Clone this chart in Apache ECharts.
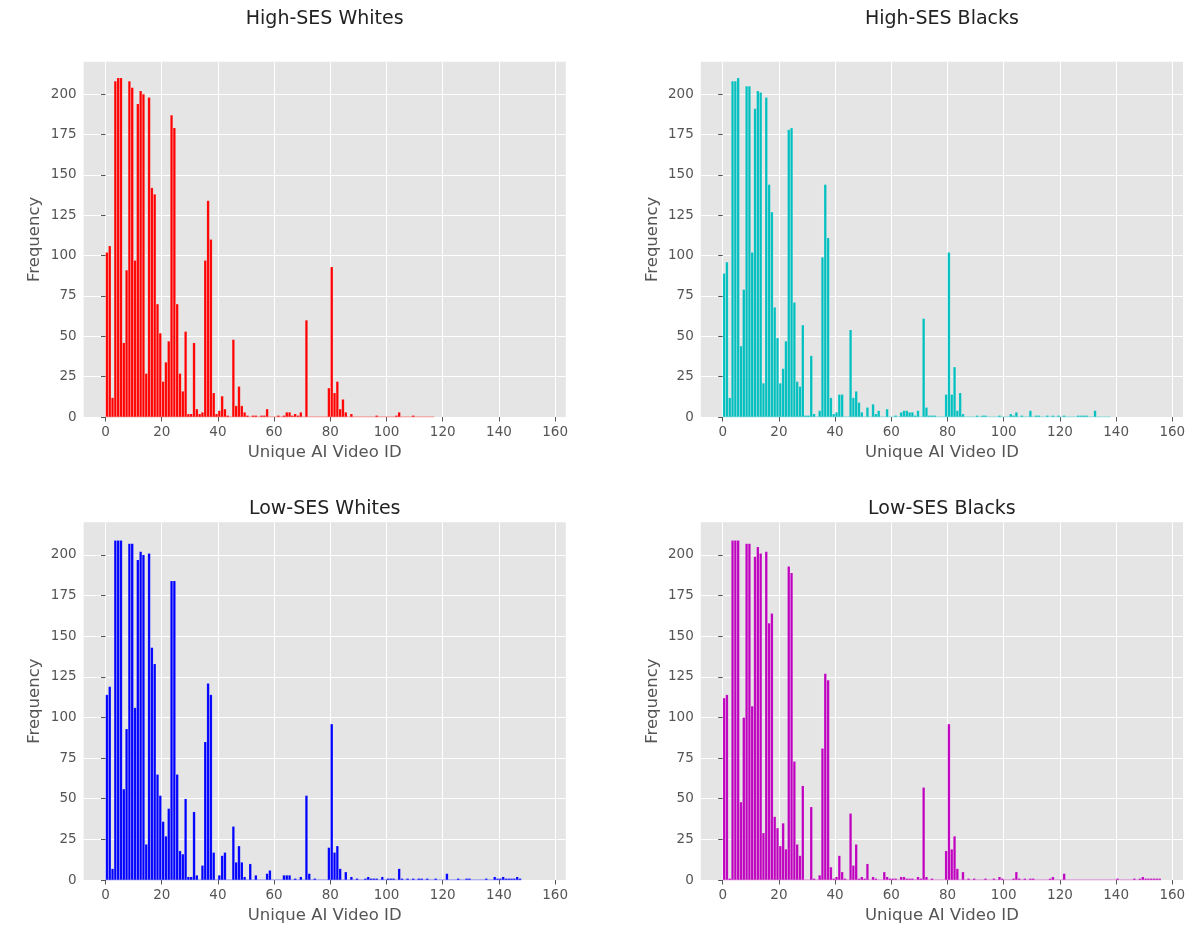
<!DOCTYPE html>
<html><head><meta charset="utf-8">
<script src="https://cdn.jsdelivr.net/npm/echarts@6/dist/echarts.min.js"></script>
<style>html,body{margin:0;padding:0;background:#fff}#c{width:1191px;height:928px}</style>
</head><body><div id="c"></div>
<script>
const xTicks = [0, 20, 40, 60, 80, 100, 120, 140, 160];
const yTicks = [0, 25, 50, 75, 100, 125, 150, 175, 200];
const titles = ['High-SES Whites', 'High-SES Blacks', 'Low-SES Whites', 'Low-SES Blacks'];
const colors = ['#ff0000', '#00bfbf', '#0000ff', '#bf00bf'];

const highSesWhites = [102,106,12,208,210,210,46,91,208,204,
97,194,202,200,27,198,142,138,70,52,
22,34,47,187,179,70,27,16,53,2,
2,46,5,2,3,97,134,110,15,2,
4,13,5,1,0,48,7,19,7,3,
1,0,1,1,0,1,1,5,0,0,
0,1,0,1,3,3,1,2,1,3,
0,60,0,0,0,0,0,0,0,18,
93,15,22,5,11,3,0,2,0,0,
0,0,0,0,0,0,1,0,0,0,
0,0,0,1,3,0,0,0,0,1,
0,0,0,0,0,0,0];

const highSesBlacks = [89,96,12,208,208,210,44,79,205,205,
102,191,202,201,21,198,144,127,68,49,
21,30,47,178,179,71,22,19,57,1,
1,38,2,0,4,99,144,111,12,2,
3,14,14,0,0,54,12,16,9,3,
0,6,0,8,2,4,0,0,5,0,
0,1,0,3,4,4,3,3,1,4,
0,61,6,1,1,1,0,0,0,14,
102,14,31,4,15,2,0,0,0,0,
1,0,1,1,0,0,0,0,1,0,
0,0,2,1,3,0,1,0,0,4,
0,1,1,0,0,1,0,1,0,1,
0,1,0,0,0,0,1,1,1,1,
0,0,4,0,0,0,0,0];

const lowSesWhites = [114,119,7,209,209,209,56,93,207,207,
106,197,202,200,22,201,143,133,65,52,
36,27,44,184,184,65,18,16,50,2,
2,42,3,0,9,85,121,114,17,0,
3,15,17,0,0,33,11,21,11,2,
0,10,0,3,0,0,0,4,6,0,
0,0,0,3,3,3,0,1,0,2,
0,52,4,0,1,0,0,0,0,20,
96,17,21,7,0,5,0,2,0,1,
0,0,1,2,1,1,1,0,2,0,
1,1,1,0,7,1,0,1,0,1,
0,1,1,0,1,0,0,1,0,0,
0,4,0,0,0,1,0,0,1,1,
0,0,0,0,0,1,0,0,2,1,
1,2,1,1,1,1,2,1];

const lowSesBlacks = [112,114,1,209,209,209,48,100,207,207,
107,199,205,201,29,202,158,164,39,32,
21,35,19,193,189,73,22,15,58,0,
0,45,1,0,3,81,127,123,8,1,
2,15,5,1,0,41,9,22,1,2,
1,10,0,2,1,0,0,5,2,1,
1,1,0,2,2,1,1,1,0,2,
1,57,2,0,1,0,0,0,0,18,
96,19,27,7,0,5,0,1,0,1,
0,0,0,1,0,0,1,0,2,1,
0,0,0,1,5,1,0,1,0,1,
1,0,0,0,0,0,1,2,0,0,
0,4,0,0,0,0,0,0,0,0,
0,0,0,0,0,0,0,0,0,0,
1,0,0,0,0,0,1,0,1,2,
1,1,1,1,1,1];

const allData = [highSesWhites, highSesBlacks, lowSesWhites, lowSesBlacks];

const FONT = 'DejaVu Sans';
const XMIN = -7.8, XMAX = 163.8, YMAX = 220;
const layout = [
  {left: 83.6, top: 61.7, width: 482.2, height: 355.3, ty: 19},
  {left: 700.8, top: 61.7, width: 482.2, height: 355.3, ty: 19},
  {left: 83.6, top: 522.3, width: 482.2, height: 357.7, ty: 509},
  {left: 700.8, top: 522.3, width: 482.2, height: 357.7, ty: 509}
];

const grid = [], xAxis = [], yAxis = [], series = [], graphic = [];
layout.forEach((p, i) => {
  grid.push({left: p.left, top: p.top, width: p.width, height: p.height,
    show: true, backgroundColor: '#e5e5e5', borderWidth: 0, containLabel: false});
  xAxis.push({type: 'value', gridIndex: i, min: XMIN, max: XMAX,
    name: 'Unique AI Video ID', nameLocation: 'middle', nameGap: 27,
    nameTextStyle: {color: '#555', fontSize: 16.5, fontFamily: FONT},
    axisLine: {show: false},
    axisTick: {show: true, customValues: xTicks, length: 4.5, lineStyle: {color: '#555', width: 1}},
    axisLabel: {customValues: xTicks, color: '#555', fontSize: 13.5, fontFamily: FONT, margin: 8},
    splitLine: {show: true, lineStyle: {color: '#ffffff', width: 1}}
  });
  yAxis.push({type: 'value', gridIndex: i, min: 0, max: YMAX,
    name: 'Frequency', nameLocation: 'middle', nameGap: 40, nameRotate: 90,
    nameTextStyle: {color: '#555', fontSize: 16.5, fontFamily: FONT},
    axisLine: {show: false},
    axisTick: {show: true, customValues: yTicks, length: 4.5, lineStyle: {color: '#555', width: 1}},
    axisLabel: {customValues: yTicks, color: '#555', fontSize: 13.5, fontFamily: FONT, margin: 7},
    splitLine: {show: true, lineStyle: {color: '#ffffff', width: 1}}
  });
  const d = allData[i];
  series.push({type: 'line', xAxisIndex: i, yAxisIndex: i, silent: true, symbol: 'none',
    data: [[0, 0], [d.length, 0]], lineStyle: {color: colors[i], width: 1, opacity: 0.55}, z: 3});
  series.push({type: 'bar', xAxisIndex: i, yAxisIndex: i, silent: true, barWidth: 2.8,
    data: d.map((v, k) => [k + 0.5, v]),
    itemStyle: {color: colors[i], borderColor: 'rgba(255,255,255,0.3)', borderWidth: 0.4}, z: 4});
  graphic.push({type: 'text', x: p.left + p.width / 2, y: p.ty,
    style: {text: titles[i], fill: '#222', font: '19px "DejaVu Sans"', align: 'center', verticalAlign: 'middle'}});
});

const chart = echarts.init(document.getElementById('c'), null, {renderer: 'canvas'});
chart.setOption({animation: false, backgroundColor: '#fff', grid, xAxis, yAxis, series, graphic});
</script></body></html>
